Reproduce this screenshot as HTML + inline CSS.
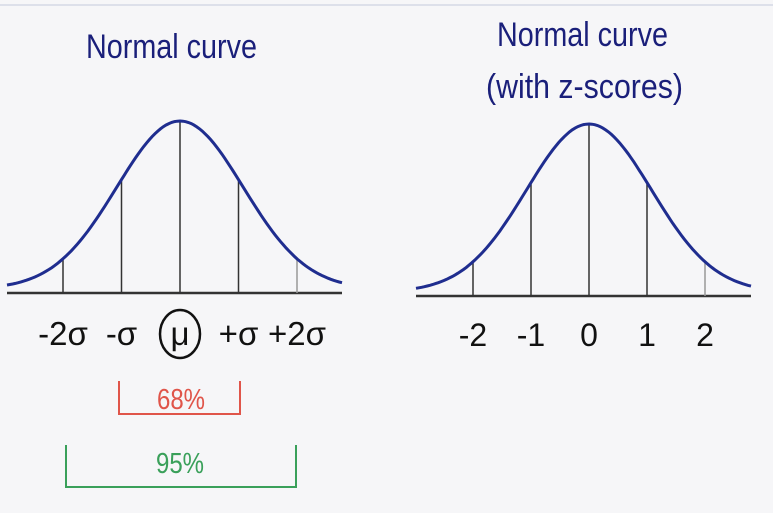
<!DOCTYPE html>
<html><head><meta charset="utf-8"><style>
html,body{margin:0;padding:0;background:#f6f6f8;}
svg{display:block;}
text{font-family:"Liberation Sans",sans-serif;}
</style></head><body>
<svg id="c" width="773" height="513" viewBox="0 0 773 513" xmlns="http://www.w3.org/2000/svg">
<rect x="0" y="0" width="773" height="513" fill="#f6f6f8"/>
<line x1="0" y1="5" x2="773" y2="5" stroke="#dde0ea" stroke-width="2"/>
<text x="86" y="58" font-size="34" fill="#1a1f7a" textLength="171" lengthAdjust="spacingAndGlyphs">Normal curve</text>
<text x="497" y="46" font-size="34" fill="#1a1f7a" textLength="171" lengthAdjust="spacingAndGlyphs">Normal curve</text>
<text x="486" y="98" font-size="34" fill="#1a1f7a" textLength="197" lengthAdjust="spacingAndGlyphs">(with z-scores)</text>
<g id="left"></g>
<g id="right"></g>
<g>
<polyline points="119,381 119,414 240,414 240,381" fill="none" stroke="#e0554a" stroke-width="2"/>
<text x="181" y="409" font-size="29" fill="#e0554a" text-anchor="middle" textLength="48" lengthAdjust="spacingAndGlyphs">68%</text>
</g>
<g>
<polyline points="66,445 66,487 296,487 296,445" fill="none" stroke="#3aa05a" stroke-width="2"/>
<text x="180" y="473" font-size="29" fill="#3aa05a" text-anchor="middle" textLength="48" lengthAdjust="spacingAndGlyphs">95%</text>
</g>
</svg>
<script>
const tickZ = [-2, -1, 0, 1, 2];
const leftLabels = ["-2σ", "-σ", "μ", "+σ", "+2σ"];
const rightLabels = ["-2", "-1", "0", "1", "2"];
const curveShapeSd = [1.08];
const NS = "http://www.w3.org/2000/svg";
function mk(tag, attrs, parent){const e=document.createElementNS(NS,tag);for(const k in attrs)e.setAttribute(k,attrs[k]);parent.appendChild(e);return e;}
function drawChart(gid, cx, unit, axisY, baseY, peakY, x0, x1, labels, labelY, circleMu, fs){
  const g=document.getElementById(gid);
  const sx=z=>cx+z*unit;
  const s=curveShapeSd[0];
  const fy=z=>baseY-(baseY-peakY)*Math.exp(-z*z/(2*s*s));
  const ax=mk('line',{x1:x0,y1:axisY,x2:x1,y2:axisY,stroke:'#333',"stroke-width":2.5},g);
  
  
  tickZ.forEach((z,i)=>{
    const l=mk('line',{x1:sx(z),y1:axisY,x2:sx(z),y2:fy(z),stroke:Math.abs(z)===2&&z>0?'#999':'#333',"stroke-width":1.5},g);
    
    
    const t=mk('text',{x:sx(z),y:labelY,"font-size":fs,fill:'#111',"text-anchor":'middle'},g);
    t.textContent=labels[i];
    
    
  });
  if(circleMu){
    const c=mk('ellipse',{cx:cx,cy:labelY-11,rx:20,ry:24,fill:'none',stroke:'#111',"stroke-width":2.5},g);
    
    
  }
  let d='';
  const zmin=(x0-cx)/unit, zmax=(x1-cx)/unit;
  for(let i=0;i<=120;i++){const z=zmin+(zmax-zmin)*i/120;d+=(i?'L':'M')+sx(z).toFixed(1)+','+fy(z).toFixed(1);}
  const p=mk('path',{d:d,fill:'none',stroke:'#1f2d8f',"stroke-width":3},g);
  
  
}
drawChart('left',180,58.5,293,289,121,7,342,leftLabels,345,true,33);
drawChart('right',589,58,296,292,124,416,751,rightLabels,346,false,32);
</script>
</body></html>
